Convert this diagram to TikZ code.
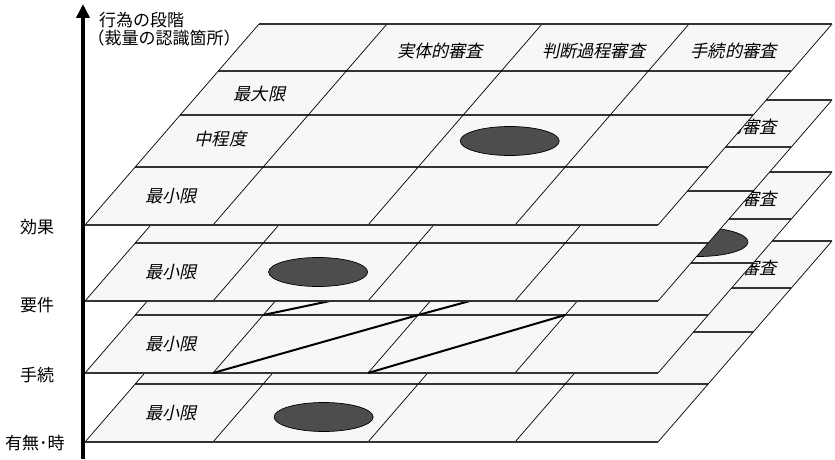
\documentclass[tikz,border=0pt]{standalone}
\usepackage{fontspec}
\newfontfamily\jp{Noto Sans CJK JP}
\newfontfamily\jpi{Noto Sans CJK JP}[FakeSlant=0.22]
\usetikzlibrary{arrows.meta,shapes.geometric}
\definecolor{cellfill}{HTML}{F7F7F7}
\definecolor{ellfill}{HTML}{4D4D4D}
\tikzset{
  hline/.style={draw=black!80, line width=1.1pt},
  vline/.style={draw=black, line width=0.7pt},
  celltext/.style={font=\jpi\fontsize{17.2}{20}\selectfont, inner sep=0pt},
  axislabel/.style={font=\jp\fontsize{17}{20}\selectfont, inner sep=0pt},
  blob/.style={ellipse, fill=ellfill, draw=black, line width=0.7pt, minimum width=99pt, minimum height=29pt, inner sep=0pt},
  diag/.style={draw=black, line width=2pt},
  axisline/.style={draw=black, line width=4.5pt, -{Triangle[width=13pt,length=14pt]}},
}
\newcommand\layerdraw[3]{%
  \begin{scope}[shift={(0,#1)}, xslant=0.8657]
    \fill[cellfill] (85,0) -- (658,0) -- (658,201) -- (85,201) -- cycle;
    \foreach \v in {58,110,154}{\draw[hline] (85,\v) -- (658,\v);}
    \foreach \b in {213,368,515}{\draw[vline] (\b,0) -- (\b,201);}
    \draw[vline] (85,0) -- (85,201) (658,0) -- (658,201);
    \draw[hline] (85,0) -- (658,0) (85,201) -- (658,201);
    \node[celltext] (#2h2) at (289.5,174) {実体的審査};
    \node[celltext] (#2h3) at (443,174) {判断過程審査};
    \node[celltext] (#2h4) at (583,174) {手続的審査};
    \node[celltext] (#2r1) at (146,131) {最大限};
    \node[celltext] (#2r2) at (146,86) {中程度};
    \node[celltext] (#2r3) at (146,29) {最小限};
    #3
  \end{scope}}
\begin{document}
\begin{tikzpicture}[x=1pt,y=1pt]
  \useasboundingbox (0,0) rectangle (835,459);
  % layer 4 : 有無・時
  \layerdraw{17}{Ld}{\node[blob] (eD) at (302,25) {};}
  % layer 3 : 手続
  \layerdraw{86}{Lc}{%
    \node[blob] (eC) at (585,131) {};
    \draw[diag] (213,0) -- (368,58);
    \draw[diag] (368,0) -- (515,58);
    \draw[diag] (213,58) -- (416,110);
    \draw[diag] (368,58) -- (515,110);}
  % layer 2 : 要件
  \layerdraw{158}{Lb}{\node[blob] (eB) at (293,29) {};}
  % layer 1 : 効果
  \layerdraw{234}{La}{\node[blob] (eA) at (437,84) {};}
  % axis
  \coordinate (axb) at (83,0);
  \coordinate (axt) at (83,455);
  \draw[axisline] (axb) -- (axt);
  \node[axislabel] (lab1) at (141.5,439) {行為の段階};
  \node[axislabel] (lab2) at (164,421) {（裁量の認識箇所）};
  \node[axislabel] (sk) at (37,232) {効果};
  \node[axislabel] (yk) at (37,154) {要件};
  \node[axislabel] (tz) at (37,84) {手続};
  \node[axislabel] (um) at (35,16) {有無･時};
\end{tikzpicture}
\end{document}
